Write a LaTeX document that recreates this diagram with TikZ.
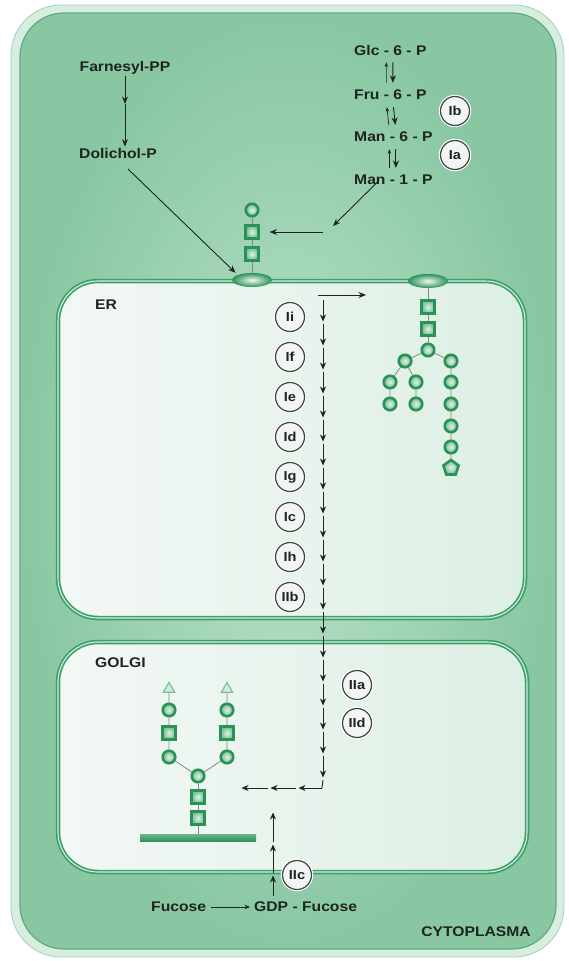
\documentclass[tikz,border=0pt]{standalone}
\usepackage{fontspec}
\setmainfont{Liberation Sans}[FakeStretch=1.12]
\usetikzlibrary{arrows.meta,shapes.geometric}
\definecolor{ink}{HTML}{1E2420}
\definecolor{cellout}{HTML}{88C7A2}
\definecolor{cellin}{HTML}{BCE2CB}
\definecolor{rim}{HTML}{D6EDDF}
\definecolor{rimline}{HTML}{5DAA80}
\definecolor{memb}{HTML}{3E9F6B}
\definecolor{membl}{HTML}{D3EEDF}
\definecolor{lumenA}{HTML}{F3F8F5}
\definecolor{lumenB}{HTML}{DDEFE4}
\definecolor{gdark}{HTML}{2A9157}
\definecolor{glight}{HTML}{B3E3C6}
\definecolor{enzfill}{HTML}{F2F5F3}
\definecolor{linkc}{HTML}{7E8C84}
\pgfdeclarelayer{compart}
\pgfdeclarelayer{links}
\pgfsetlayers{compart,links,main}
\begin{document}
\begin{tikzpicture}[x=1pt,y=-1pt,
  lbl/.style={font=\bfseries\fontsize{14}{16}\selectfont, text=ink, inner sep=1pt},
  enz/.style={circle, draw=ink!85, line width=1.2pt, fill=enzfill, minimum size=29pt, inner sep=0pt,
    font=\bfseries\fontsize{13}{14}\selectfont, text=ink, preaction={draw=white, line width=3.4pt}},
  arr/.style={draw=ink, line width=0.9pt, -{Stealth[length=7.5pt,width=6pt]}},
  hop/.style={draw=ink, line width=0.9pt, -{Stealth[length=7pt,width=6pt]}, shorten >=2.5pt},
  glyph/.style={inner sep=0pt, draw=gdark, line width=2.6pt, shade, inner color=white!55!glight, outer color=glight!55!gdark},
  gc/.style={glyph, circle, minimum size=12.5pt},
  gsq/.style={glyph, rectangle, minimum size=12.5pt},
  gtri/.style={regular polygon, regular polygon sides=3, minimum size=13pt, inner sep=0pt, draw=gdark!60, line width=1.2pt, fill=glight!60!white},
  gpent/.style={glyph, regular polygon, regular polygon sides=5, minimum size=16pt},
  anch/.style={ellipse, minimum width=40pt, minimum height=14pt, inner sep=0pt, shade, inner color=white!80!glight, outer color=gdark},
  link/.style={draw=linkc, line width=0.8pt},
  comp/.style={rounded corners=40pt}
]
\useasboundingbox (0,0) rectangle (568,961);

% compartments
\begin{pgfonlayer}{compart}
  \fill[white] (0,0) rectangle (568,961);
  \path[fill=rim, draw=rim!70!gdark, line width=0.8pt, rounded corners=50pt] (11,5) rectangle (564,957);
  \path[shade, inner color=cellin, outer color=cellout, draw=rimline, line width=1.2pt, rounded corners=44pt]
    (20,13) rectangle (556,949);
  % endoplasmic reticulum
  \path[comp, left color=lumenA, right color=lumenB] (58,281) rectangle (525,618);
  \draw[comp, memb, line width=4.5pt] (58,281) rectangle (525,618);
  \draw[comp, membl, line width=1.1pt] (58,281) rectangle (525,618);
  % Golgi apparatus
  \path[comp, left color=lumenA, right color=lumenB] (58,642) rectangle (527,872);
  \draw[comp, memb, line width=4.5pt] (58,642) rectangle (527,872);
  \draw[comp, membl, line width=1.1pt] (58,642) rectangle (527,872);
\end{pgfonlayer}

% compartment names
\node[lbl, anchor=west] (er) at (94,305) {ER};
\node[lbl, anchor=west] (golgi) at (94,663) {GOLGI};
\node[lbl, anchor=east] (cyto) at (532,932) {CYTOPLASMA};

% dolichol branch
\node[lbl] (farn) at (125,68) {Farnesyl-PP};
\node[lbl, anchor=west] (doli) at (78,153) {Dolichol-P};
\coordinate (fm) at (125,104);
\draw[arr] (farn.south) -- (fm);
\draw[arr] (fm) -- (fm |- doli.north);

% sugar phosphate branch
\node[lbl, anchor=west] (glc) at (353,50) {Glc - 6 - P};
\node[lbl, anchor=west] (fru) at (353,95) {Fru - 6 - P};
\node[lbl, anchor=west] (man6) at (353,137) {Man - 6 - P};
\node[lbl, anchor=west] (man1) at (353,180) {Man - 1 - P};
\foreach \a/\b in {glc/fru, fru/man6, man6/man1}{
  \draw[draw=ink, line width=0.7pt, -{Stealth[length=4.5pt,width=3.5pt]}, shorten <=6pt, shorten >=6pt] ([xshift=-4pt]\b.north) -- ([xshift=-4pt]\a.south);
  \draw[arr, shorten <=6pt, shorten >=6pt] ([xshift=2.5pt]\a.south) -- ([xshift=2.5pt]\b.north);
}
\node[enz] (Ib) at (455,111) {Ib};
\node[enz] (Ia) at (455,155) {Ia};

% membrane anchors and lipid-linked glycans
\node[anch] (a1) at (252,280) {};
\node[gsq] (t3) at (252,254) {};
\node[gsq] (t2) at (252,232) {};
\node[gc] (t1) at (252,210) {};
\node[anch] (a2) at (428,281) {};
\node[gsq] (e1) at (428,307) {};
\node[gsq] (e2) at (428,329) {};
\node[gc] (e3) at (428,350) {};
\node[gc] (l0) at (405,361) {};
\node[gc] (l1) at (390,382) {};
\node[gc] (l2) at (390,404) {};
\node[gc] (m1) at (416,382) {};
\node[gc] (m2) at (416,404) {};
\node[gc] (r0) at (451,361) {};
\node[gc] (r1) at (451,382) {};
\node[gc] (r2) at (451,404) {};
\node[gc] (r3) at (451,426) {};
\node[gc] (r4) at (451,447) {};
\node[gpent] (r5) at (451,468) {};
\begin{pgfonlayer}{links}
  \draw[link] (a1) -- (t3) -- (t2) -- (t1);
  \draw[link] (a2) -- (e1) -- (e2) -- (e3);
  \draw[link] (e3) -- (l0) -- (l1) -- (l2);
  \draw[link] (l0) -- (m1) -- (m2);
  \draw[link] (e3) -- (r0) -- (r1) -- (r2) -- (r3) -- (r4) -- (r5);
\end{pgfonlayer}

\draw[arr, shorten <=14pt, shorten >=3pt] (doli.south) -- (a1.north west);
\coordinate (mc) at (333,226);
\draw[arr] ([xshift=-16pt,yshift=4pt]man1.south) -- (mc);
\coordinate (hs) at (323,232);
\draw[arr] (hs) -- ([xshift=10pt]t2.east);

% ER pathway: step-by-step transfer chain
\coordinate (eh1) at (318,295);
\coordinate (eh2) at (366,295);
\draw[arr] (eh1) -- (eh2);
\foreach \i in {0,...,20}{ \coordinate (v\i) at (323,{300+24*\i}); }
\foreach \i [evaluate=\i as \j using int(\i+1)] in {0,...,19}{ \draw[hop] (v\i) -- (v\j); }
\coordinate (h0) at (322,788);
\coordinate (h1) at (296,788);
\coordinate (h2) at (268,788);
\coordinate (h3) at (239,788);
\draw[draw=ink, line width=0.9pt] (v20) -- (h0);
\draw[hop] (h0) -- (h1);
\draw[hop] (h1) -- (h2);
\draw[hop] (h2) -- (h3);

\foreach \lab [count=\k from 0] in {Ii,If,Ie,Id,Ig,Ic,Ih,IIb}{
  \node[enz] (d\k) at (290,{317+40*\k}) {\lab};
}
\node[enz] (IIa) at (357,685) {IIa};
\node[enz] (IId) at (357,723) {IId};

% Golgi-processed glycan
\node[rectangle, minimum width=116pt, minimum height=7pt, inner sep=0pt, top color=gdark!70!white, bottom color=gdark] (bar) at (198,838) {};
\node[gsq] (c1) at (198,818) {};
\node[gsq] (c2) at (198,797) {};
\node[gc] (c3) at (198,776) {};
\node[gc] (p1) at (169,757) {};
\node[gsq] (p2) at (169,733) {};
\node[gc] (p3) at (169,710) {};
\node[gtri] (p4) at (169,689) {};
\node[gc] (q1) at (227,757) {};
\node[gsq] (q2) at (227,733) {};
\node[gc] (q3) at (227,710) {};
\node[gtri] (q4) at (227,689) {};
\begin{pgfonlayer}{links}
  \draw[link] (bar) -- (c1) -- (c2) -- (c3);
  \draw[link] (c3) -- (p1) -- (p2) -- (p3) -- (p4);
  \draw[link] (c3) -- (q1) -- (q2) -- (q3) -- (q4);
\end{pgfonlayer}

% fucose supply
\node[lbl, anchor=west] (fuc) at (150,907) {Fucose};
\node[lbl, anchor=west] (gdp) at (253,907) {GDP - Fucose};
\draw[draw=ink, line width=0.8pt, -{Stealth[length=5.5pt,width=4.5pt]}, shorten <=4pt, shorten >=3pt] (fuc.east) -- (gdp.west);
\coordinate (u0) at (273,896);
\coordinate (u1) at (273,873);
\coordinate (u2) at (273,842);
\coordinate (u3) at (273,810);
\draw[hop] (u0) -- (u1);
\draw[hop] (u1) -- (u2);
\draw[hop] (u2) -- (u3);
\node[enz] (IIc) at (297,875) {IIc};
\end{tikzpicture}
\end{document}
